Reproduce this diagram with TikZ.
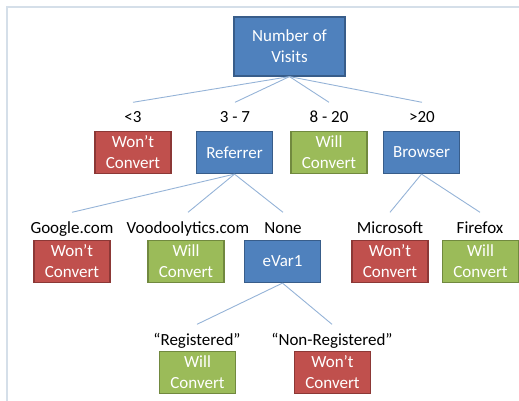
\documentclass[tikz,border=0pt]{standalone}
\usepackage{fontspec}
\setmainfont{Carlito}
\definecolor{frameline}{HTML}{D5DFE9}
\definecolor{linkline}{HTML}{95B3D7}
\definecolor{bluefill}{HTML}{4F81BD}
\definecolor{blueedge}{HTML}{385D8A}
\definecolor{redfill}{HTML}{C0504D}
\definecolor{rededge}{HTML}{8C3836}
\definecolor{greenfill}{HTML}{9BBB59}
\definecolor{greenedge}{HTML}{71893F}
\tikzset{
  box/.style={rectangle, line width=1.2pt, text=white, align=center,
    minimum width=76pt, minimum height=42pt, inner sep=1pt,
    font=\fontsize{17}{21}\selectfont},
  decision/.style={box, fill=bluefill, draw=blueedge},
  nogo/.style={box, fill=redfill, draw=rededge},
  yesgo/.style={box, fill=greenfill, draw=greenedge},
  branch/.style={anchor=base, text height=12pt, text depth=4pt, inner xsep=1pt,
    inner ysep=8.5pt, font=\fontsize{17}{21}\selectfont},
  link/.style={draw=linkline, line width=0.9pt},
}
\begin{document}
\begin{tikzpicture}[x=1pt, y=-1pt]
\useasboundingbox (0,0) rectangle (519,401);
% page frame
\draw[frameline, line width=2pt] (519,7) -- (7,7) -- (7,401);

% root
\node[decision, minimum width=111pt, minimum height=59pt] (root) at (289.5,46.5) {Number of\\Visits};

% first level
\node[branch] (lA) at (133,123) {<3};
\node[branch] (lB) at (235,123) {3 - 7};
\node[branch] (lC) at (329,123) {8 - 20};
\node[branch] (lD) at (422,123) {>20};
\node[nogo] (bA) at (133,152.5) {Won’t\\Convert};
\node[decision] (bB) at (234.5,152.5) {Referrer};
\node[yesgo] (bC) at (329,152.5) {Will\\Convert};
\node[decision] (bD) at (421.5,152.5) {Browser};
\foreach \t in {lA,lB,lC,lD} \draw[link] (root.south) -- (\t.north);

% second level
\node[branch] (lE) at (72,233) {Google.com};
\node[branch] (lF) at (188,233) {Voodoolytics.com};
\node[branch] (lG) at (283,233) {None};
\node[branch] (lH) at (390,233) {Microsoft};
\node[branch] (lI) at (480,233) {Firefox};
\node[nogo] (bE) at (72,261.5) {Won’t\\Convert};
\node[yesgo] (bF) at (186,261.5) {Will\\Convert};
\node[decision] (bG) at (282.5,261.5) {eVar1};
\node[nogo] (bH) at (390,261.5) {Won’t\\Convert};
\node[yesgo] (bI) at (480.5,261.5) {Will\\Convert};
\foreach \t in {lE,lF,lG} \draw[link] (bB.south) -- (\t.north);
\foreach \t in {lH,lI} \draw[link] (bD.south) -- (\t.north);

% third level
\node[branch] (lJ) at (197,345) {“Registered”};
\node[branch] (lK) at (332,345) {“Non-Registered”};
\node[yesgo] (bJ) at (197.5,372.5) {Will\\Convert};
\node[nogo] (bK) at (332.5,372.5) {Won’t\\Convert};
\foreach \t in {lJ,lK} \draw[link] (bG.south) -- (\t.north);
\end{tikzpicture}
\end{document}
